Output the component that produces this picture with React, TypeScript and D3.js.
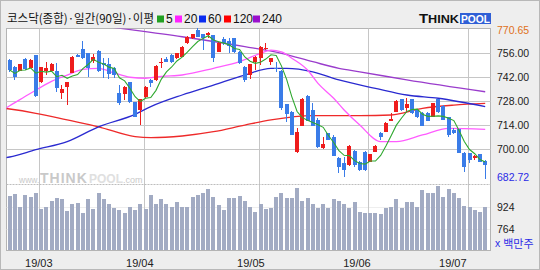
import React from 'react';
import * as d3 from 'd3';

// ---------- data ----------
const opens = [752.1,748.2,745.8,752.5,747.6,755.0,739.0,745.8,745.8,745.6,732.9,736.5,744.6,755.0,758.3,756.0,751.7,757.3,750.1,749.7,747.6,732.9,732.0,739.0,727.3,722.8,730.6,740.4,740.4,750.1,752.5,755.0,753.1,754.0,761.8,764.8,769.6,767.1,766.7,766.7,756.9,764.4,763.4,764.8,756.9,748.2,743.3,750.7,753.1,758.3,750.7,747.6,745.8,726.2,721.8,698.1,713.6,731.0,722.8,717.0,700.8,709.2,707.2,694.6,691.6,690.6,698.8,692.6,698.4,692.6,698.4,709.5,710.1,716.6,721.8,729.1,723.8,729.1,722.8,721.2,721.2,718.9,729.1,725.2,718.5,711.1,711.5,697.8,697.5,694.6,696.9,693.0];
const highs = [752.5,748.5,750.0,753.1,752.5,755.3,748.0,750.7,750.5,750.5,737.4,739.3,754.3,755.5,763.2,756.3,755.6,757.9,753.1,753.1,748.2,737.4,736.8,739.5,727.6,729.5,737.0,740.7,749.0,753.1,753.8,755.5,756.3,760.2,766.0,767.6,770.65,767.4,768.6,767.0,762.5,765.7,764.8,765.0,757.2,748.5,750.0,754.3,760.2,761.8,753.4,751.1,746.1,726.5,722.1,712.1,729.6,731.6,726.7,718.0,707.2,709.5,708.2,695.5,695.5,702.2,699.4,693.0,698.7,697.2,702.2,710.1,715.7,720.9,728.4,729.4,729.7,729.4,723.1,721.5,721.5,727.0,729.4,725.5,718.8,712.1,711.8,698.1,697.8,696.5,697.2,693.6];
const lows = [745.2,740.4,745.5,746.5,747.3,730.5,738.5,743.3,745.5,733.5,729.3,725.7,744.3,753.7,752.8,742.3,750.1,745.2,741.4,740.8,741.4,725.7,728.7,727.0,718.5,714.0,730.0,736.5,740.0,747.2,750.8,750.3,752.8,753.7,761.5,764.5,765.4,757.9,764.8,751.1,756.6,760.9,756.0,756.3,749.6,739.0,741.0,746.2,749.1,757.9,749.1,745.2,722.8,716.0,707.9,697.8,713.3,716.1,713.3,700.8,700.0,705.0,695.8,685.8,683.8,690.3,689.6,687.4,687.4,692.3,698.1,705.3,709.8,716.3,721.5,722.5,721.8,720.6,718.2,713.2,716.1,718.6,720.9,716.7,707.2,708.8,697.5,686.7,691.6,693.6,692.3,682.72];
const closes = [746.2,742.3,749.7,746.8,752.1,731.0,747.8,747.2,749.7,735.9,735.1,739.0,754.0,754.0,753.1,747.2,754.0,745.6,749.1,743.7,743.3,726.7,736.5,727.7,718.9,729.1,736.5,738.4,748.7,751.1,751.1,750.7,756.0,759.9,765.7,767.3,765.7,765.1,767.7,753.1,762.2,761.8,760.4,756.6,750.1,740.4,749.6,754.0,759.9,759.3,753.1,747.2,723.8,720.3,708.2,710.1,729.3,716.4,713.6,701.3,702.8,705.3,696.1,689.6,687.7,701.9,690.6,687.7,687.7,696.9,701.9,706.8,715.4,717.6,728.1,722.8,726.2,720.9,718.5,713.5,716.4,726.7,721.8,717.0,708.2,709.5,697.8,689.3,693.6,695.9,692.6,690.6];
const volumes = [999.8,1011.8,924,1006.9,994.8,1023,907.7,924,964.4,983.5,976.4,895.7,943,948,877.3,976.4,907.7,1018.9,976.4,941,912.7,900.6,881.5,919.8,900.6,941,907.7,1006.9,943,976.4,941,924,955.2,924,924,994.8,1006.9,1018.9,1047.2,990.6,936,900.6,983.5,983.5,999.8,966.5,924,888.6,941,907.7,917,994.8,1018.9,987.7,987.7,1054.3,964.4,987.7,941,917,941,917,978.5,964.4,941,917,955.2,888.6,877.3,881.5,881.5,872.3,912.7,924,978.5,917,955.2,955.2,924,1042.2,1018.9,1023,1070.6,994.8,1047.2,1018.9,987.7,931,924,900.6,888.6,924];

// moving averages as [candle index, value]
const ma20Pts: [number, number][] = [[-1,723.5],[0,725.3],[4,732.6],[8,739.6],[11,743.3],[14,746.6],[17,747.2],[20,744.5],[23,742.0],[26,741.4],[29,742.5],[33,743.3],[39,747.2],[44,751.1],[48,756.0],[50,757.9],[52,756.9],[54,753.1],[57,746.2],[59,738.4],[62,729.7],[64,722.8],[67,714.0],[71,704.3],[74,704.3],[79,708.2],[84,712.1],[91,711.5]];
const ma60Pts: [number, number][] = [[-1,694.8],[0,695.3],[5,699.6],[11,704.3],[17,713.0],[24,720.3],[27,724.8],[33,731.6],[39,737.4],[45,743.3],[50,747.2],[53,747.2],[58,745.2],[63,740.4],[70,735.5],[76,731.6],[82,729.7],[91,724.8]];
const ma120Pts: [number, number][] = [[-1,723.8],[0,723.4],[5,720.9],[11,717.0],[17,713.0],[24,707.2],[27,706.6],[33,707.6],[39,710.1],[45,714.0],[50,717.0],[58,719.5],[67,719.5],[73,719.9],[79,723.8],[85,725.7],[91,726.7]];
const ma240Pts: [number, number][] = [[14,773.5],[22,770.3],[33,765.7],[45,759.9],[52,756.0],[58,751.1],[63,747.2],[67,745.2],[76,740.4],[91,733.5]];

const priceTicks = [756, 742, 728, 714, 700];
const priceMax = 770.65;
const priceMin = 682.72;
const volTicks = [924, 764];
const volBase = 617.4;
const monthLabels = ['19/03', '19/04', '19/05', '19/06', '19/07'];
const monthStartIdx = [6, 26, 48, 69, 88];
const legendTitle = '코스닥(종합)·일간(90일)·이평';
const legendLabels = ['5', '20', '60', '120', '240'];

// ---------- styles / layout ----------
const W = 540, H = 270;
const plotL = 6.5, plotR = 490.5, plotT = 28.5, priceB = 184.5, plotB = 250.5;
const UP = '#ee1c1c', DOWN = '#3a7ce8';
const maColors = ['#2fa82f', '#ff5cff', '#2a2ad0', '#ee2a2a', '#9a3ccc'];
const legendSwatch = ['#22a022', '#ff22ff', '#0a2cf0', '#ff0000', '#9a10cc'];
const legendX = [157, 175, 199, 224, 253];
const labelFont = '"Liberation Sans", Arial, sans-serif';

export default function App() {
  const n = closes.length;
  const x = d3.scaleLinear().domain([0, n - 1]).range([9.7, 485.2]);
  const xLabel = d3.scaleLinear().domain([0, n - 1]).range([8.5, 468.0]);
  const yP = d3.scaleLinear().domain([priceMin, priceMax]).range([178.5, 28.3]);
  const yV = d3.scaleLinear().domain([volBase, d3.max(volumes) as number]).range([250, 186]);

  // 5-day average of closes (expanding window at the start)
  const ma5: [number, number][] = closes.map((_, i) => {
    const s = closes.slice(Math.max(0, i - 4), i + 1);
    return [i, d3.mean(s) as number];
  });

  const smooth = d3.line<[number, number]>().x(d => x(d[0])).y(d => yP(d[1])).curve(d3.curveMonotoneX);
  const straight = d3.line<[number, number]>().x(d => x(d[0])).y(d => yP(d[1]));

  const bw = 4;

  return (
    <div style={{ position: 'absolute', left: 0, top: 0 }}>
      <svg width={W} height={H} viewBox={`0 0 ${W} ${H}`} style={{ display: 'block' }}>
        <defs>
          <clipPath id="pclip">
            <rect x={plotL} y={plotT} width={plotR - plotL} height={priceB - plotT} />
          </clipPath>
        </defs>
        <rect x={0} y={0} width={W} height={H} fill="#eeeeee" />
        <rect x={0.5} y={0.5} width={W - 1} height={H - 1} fill="none" stroke="#b8b8b8" />
        <rect x={plotL} y={plotT} width={plotR - plotL} height={plotB - plotT} fill="#ffffff" stroke="#b4b4b4" />

        {/* legend */}
        <text x={7} y={23} fontFamily='"Noto Sans CJK KR", sans-serif' fontSize={12} fill="#111"
          textLength={147} lengthAdjust="spacingAndGlyphs">{legendTitle}</text>
        {legendLabels.map((l, i) => (
          <g key={l}>
            <rect x={legendX[i]} y={15.5} width={7} height={7} fill={legendSwatch[i]} />
            <text x={legendX[i] + 9} y={23} fontFamily={labelFont} fontSize={12} fill="#111">{l}</text>
          </g>
        ))}

        {/* logo */}
        <text x={419} y={23} fontFamily={labelFont} fontWeight="bold" fontSize={11} fill="#111"
          textLength={40} lengthAdjust="spacingAndGlyphs"><tspan fontSize={13}>T</tspan>HINK</text>
        <rect x={460} y={13} width={31} height={11} fill="#2f5fd6" />
        <text x={461} y={23} fontFamily={labelFont} fontWeight="bold" fontSize={11} fill="#ffffff"
          textLength={29} lengthAdjust="spacingAndGlyphs">POOL</text>

        {/* grid */}
        {priceTicks.map(t => (
          <line key={t} x1={plotL} x2={plotR} y1={Math.round(yP(t)) + 0.5} y2={Math.round(yP(t)) + 0.5} stroke="#c6c6c6" />
        ))}
        {volTicks.map(t => (
          <line key={t} x1={plotL} x2={plotR} y1={Math.round(yV(t)) + 0.5} y2={Math.round(yV(t)) + 0.5} stroke="#dcdcdc" strokeDasharray="1,1" />
        ))}
        {monthStartIdx.map(i => (
          <line key={i} x1={Math.round(x(i) - 2) + 0.5} x2={Math.round(x(i) - 2) + 0.5} y1={plotT} y2={plotB} stroke="#c6c6c6" />
        ))}
        <line x1={plotL} x2={plotR} y1={priceB} y2={priceB} stroke="#bdbdbd" strokeDasharray="2,1" />

        {/* watermark (one text element) */}
        <text y={182.5} fill="#c9c9c9" fontFamily={labelFont}>
          <tspan x={19} fontSize={8.5}>www.</tspan>
          <tspan x={40} fontSize={14} fontWeight="bold" letterSpacing={1}>THINK</tspan>
          <tspan x={89} fontSize={12} fontWeight="bold" fill="#e0e0e0">POOL</tspan>
          <tspan x={123} fontSize={9}>.com</tspan>
        </text>

        {/* volume */}
        <g shapeRendering="crispEdges">
          {volumes.map((v, i) => (
            <rect key={i} x={x(i) - bw / 2} y={yV(v)} width={bw} height={250 - yV(v)} fill="#a2abc3" />
          ))}
        </g>

        {/* moving averages */}
        <g clipPath="url(#pclip)" fill="none" strokeWidth={1.3}>
          <path d={smooth(ma240Pts) || ''} stroke={maColors[4]} />
          <path d={smooth(ma120Pts) || ''} stroke={maColors[3]} />
          <path d={smooth(ma60Pts) || ''} stroke={maColors[2]} />
          <path d={smooth(ma20Pts) || ''} stroke={maColors[1]} />
        </g>

        {/* candles */}
        <g shapeRendering="crispEdges">
          {closes.map((c, i) => {
            const o = opens[i];
            const col = c >= o ? UP : DOWN;
            const top = yP(Math.max(o, c));
            const bot = yP(Math.min(o, c));
            const cx = x(i);
            return (
              <g key={i}>
                <line x1={cx} x2={cx} y1={yP(highs[i])} y2={yP(lows[i])} stroke={col} strokeWidth={1} />
                <rect x={cx - bw / 2} y={top} width={bw} height={Math.max(1.5, bot - top)} fill={col} />
              </g>
            );
          })}
        </g>

        <g clipPath="url(#pclip)" fill="none">
          <path d={straight(ma5) || ''} stroke={maColors[0]} strokeWidth={1.1} />
        </g>

        {/* right axis labels */}
        <g fontFamily={labelFont} fontSize={10.5} dominantBaseline="central">
          <text x={497} y={yP(priceMax) + 2} fill="#e07020">{priceMax.toFixed(2)}</text>
          {priceTicks.map(t => (
            <text key={t} x={497} y={yP(t)} fill="#222">{t.toFixed(2)}</text>
          ))}
          <text x={497} y={yP(priceMin) - 1.5} fill="#2a2ae6">{priceMin.toFixed(2)}</text>
          {volTicks.map(t => (
            <text key={t} x={497} y={yV(t)} fill="#222">{t}</text>
          ))}
          <text x={495} y={243} fill="#2a2ae6" fontSize={10.5}>
            x <tspan fontFamily='"Noto Sans CJK KR", sans-serif' fontSize={11}>백만주</tspan>
          </text>
        </g>

        {/* bottom labels */}
        <g fontFamily={labelFont} fontSize={11} fill="#222" textAnchor="middle">
          {monthStartIdx.map((i, k) => (
            <text key={i} x={xLabel(i)} y={267}>{monthLabels[k]}</text>
          ))}
        </g>
      </svg>
    </div>
  );
}
